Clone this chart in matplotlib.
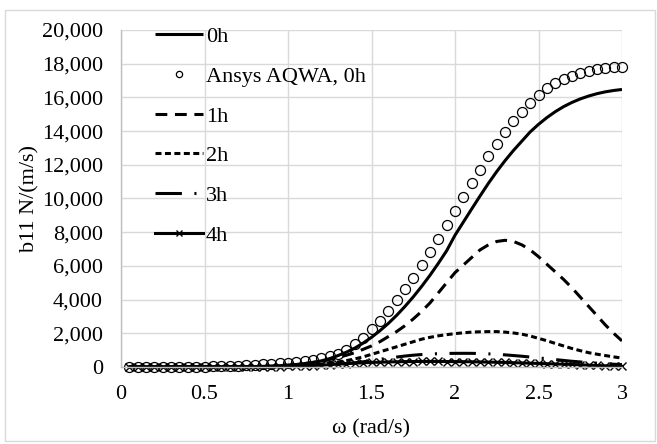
import matplotlib
matplotlib.use("Agg")
import matplotlib.pyplot as plt
from matplotlib.lines import Line2D
from matplotlib.patches import Rectangle
from matplotlib.ticker import FuncFormatter, MultipleLocator

plt.rcParams['font.family'] = ['Liberation Serif', 'DejaVu Serif']
plt.rcParams['lines.scale_dashes'] = False

omega = [0.05, 0.10, 0.15, 0.20, 0.25, 0.30, 0.35, 0.40, 0.45, 0.50,
         0.55, 0.60, 0.65, 0.70, 0.75, 0.80, 0.85, 0.90, 0.95, 1.00,
         1.05, 1.10, 1.15, 1.20, 1.25, 1.30, 1.35, 1.40, 1.45, 1.50,
         1.55, 1.60, 1.65, 1.70, 1.75, 1.80, 1.85, 1.90, 1.95, 2.00,
         2.05, 2.10, 2.15, 2.20, 2.25, 2.30, 2.35, 2.40, 2.45, 2.50,
         2.55, 2.60, 2.65, 2.70, 2.75, 2.80, 2.85, 2.90, 2.95, 3.00]

b11_0h = [0, 0, 0, 0, 0, 0, 1, 1, 2, 3,
          4, 6, 9, 13, 19, 27, 38, 53, 78, 110,
          150, 205, 275, 365, 500, 680, 880, 1120, 1420, 1760,
          2150, 2580, 3060, 3590, 4160, 4780, 5440, 6150, 6900, 7820,
          8600, 9380, 10150, 10900, 11600, 12250, 12850, 13400, 13950, 14400,
          14800, 15150, 15450, 15700, 15910, 16080, 16220, 16330, 16410, 16470]

aqwa_0h = [0, 0, 0, 0, 5, 8, 12, 16, 22, 28,
           36, 45, 60, 80, 100, 130, 160, 190, 220, 260,
           310, 370, 440, 530, 650, 800, 1000, 1350, 1700, 2250,
           2750, 3320, 3950, 4600, 5300, 6030, 6800, 7600, 8420, 9250,
           10080, 10900, 11700, 12500, 13250, 13950, 14580, 15150, 15680, 16150,
           16530, 16840, 17080, 17290, 17440, 17570, 17680, 17740, 17780, 17790]

b11_1h = [0, 0, 0, 0, 0, 0, 1, 1, 2, 3,
          4, 5, 7, 10, 14, 20, 28, 40, 60, 100,
          140, 200, 270, 350, 450, 570, 700, 850, 1050, 1250,
          1500, 1800, 2100, 2450, 2850, 3300, 3800, 4400, 5000, 5600,
          6050, 6500, 6950, 7250, 7450, 7520, 7450, 7250, 6950, 6550,
          6100, 5650, 5200, 4700, 4150, 3600, 3050, 2500, 2000, 1550]

b11_2h = [0, 0, 0, 0, 0, 0, 0, 1, 1, 2,
          2, 3, 4, 6, 8, 11, 15, 21, 30, 40,
          60, 90, 125, 170, 230, 300, 380, 480, 600, 750,
          900, 1050, 1200, 1350, 1500, 1650, 1760, 1850, 1920, 1980,
          2030, 2070, 2090, 2100, 2100, 2070, 2020, 1950, 1840, 1700,
          1560, 1400, 1250, 1100, 970, 850, 760, 680, 600, 530]

b11_3h = [0, 0, 0, 0, 0, 0, 0, 0, 1, 1,
          1, 2, 3, 4, 5, 7, 9, 12, 15, 20,
          28, 40, 58, 80, 110, 150, 200, 250, 310, 380,
          455, 530, 590, 650, 700, 740, 770, 790, 805, 810,
          812, 810, 800, 780, 755, 720, 680, 640, 590, 540,
          490, 440, 390, 340, 300, 260, 225, 190, 165, 140]

b11_4h = [0, 0, 0, 0, 0, 0, 0, 0, 0, 1,
          1, 1, 2, 3, 4, 5, 7, 10, 14, 30,
          45, 60, 85, 110, 140, 170, 200, 230, 250, 270,
          285, 300, 310, 320, 325, 330, 330, 330, 325, 320,
          315, 310, 300, 290, 280, 270, 255, 240, 225, 210,
          195, 180, 165, 150, 130, 110, 90, 70, 55, 40]

labels = ['0h', 'Ansys AQWA, 0h', '1h', '2h', '3h', '4h']
x_ticks = [0, 0.5, 1, 1.5, 2, 2.5, 3]
x_tick_labels = ['0', '0.5', '1', '1.5', '2', '2.5', '3']

FS = 16

fig = plt.figure(figsize=(6.57, 4.44), dpi=100)
ax = fig.add_axes([121/657, 1-367/444, 501/657, 337/444])

# outer chart border
fig.patches.append(Rectangle((5/657, 1-441/444), 650/657, 431/444,
                             transform=fig.transFigure, fill=False,
                             edgecolor='#d9d9d9', linewidth=1.0))

lw = 2.2
l0, = ax.plot(omega, b11_0h, color='black', lw=lw, solid_capstyle='butt')
la, = ax.plot(omega, aqwa_0h, linestyle='none', marker='o', markersize=7.2,
              markerfacecolor='none', markeredgecolor='black', markeredgewidth=0.9,
              clip_on=False)
l1, = ax.plot(omega, b11_1h, color='black', lw=lw, dashes=(8.5, 5.5))
l2, = ax.plot(omega, b11_2h, color='black', lw=lw, dashes=(4.3, 2.5))
l3, = ax.plot(omega, b11_3h, color='black', lw=lw, dashes=(19, 9, 1.5, 9))
l4, = ax.plot(omega, b11_4h, color='black', lw=lw, marker='x', markersize=5.5,
              markeredgewidth=1.0, clip_on=False)

ax.set_xlim(0, 3)
ax.set_ylim(0, 20000)
ax.set_xticks(x_ticks)
ax.set_xticklabels(x_tick_labels)
ax.yaxis.set_major_locator(MultipleLocator(2000))
ax.yaxis.set_major_formatter(FuncFormatter(lambda v, p: f'{int(v):,}'))
ax.grid(True, color='#d9d9d9', linewidth=1.0)
ax.set_axisbelow(True)
for s in ['top', 'right']:
    ax.spines[s].set_visible(False)
for s in ['left', 'bottom']:
    ax.spines[s].set_color('#bfbfbf')
    ax.spines[s].set_linewidth(1.0)
ax.tick_params(axis='x', length=0, labelsize=FS, pad=13)
ax.tick_params(axis='y', length=0, labelsize=FS, pad=13)
ax.set_xlabel('ω (rad/s)', fontsize=FS, labelpad=11)
ax.set_ylabel('b11 N/(m/s)', fontsize=FS, labelpad=1.5)

h_a = Line2D([], [], linestyle='none', marker='o', markersize=4.5,
             markerfacecolor='none', markeredgecolor='black', markeredgewidth=0.9)
h_4 = Line2D([], [], color='black', lw=lw, marker='x', markersize=4.5, markeredgewidth=1.0)
leg = ax.legend([l0, h_a, l1, l2, l3, h_4], labels, loc='upper left',
                bbox_to_anchor=(0.068, 1.01), frameon=False, fontsize=FS,
                handlelength=2.16, handletextpad=0.12, labelspacing=0.86,
                borderaxespad=0, borderpad=0, numpoints=1)

fig.savefig('out.png', dpi=100)
